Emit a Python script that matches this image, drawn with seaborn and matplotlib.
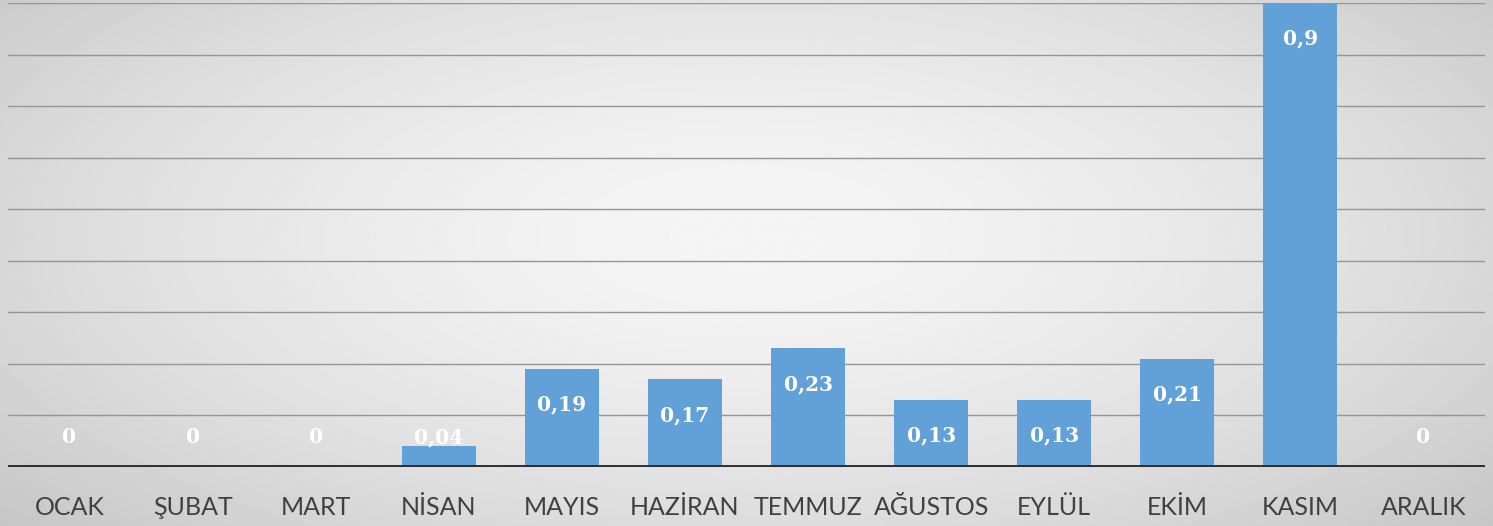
import numpy as np
import pandas as pd
import matplotlib
matplotlib.use('Agg')
import matplotlib.pyplot as plt
import seaborn as sns

# aylar ve degerler
months = ['OCAK', 'ŞUBAT', 'MART', 'NİSAN', 'MAYIS', 'HAZİRAN',
          'TEMMUZ', 'AĞUSTOS', 'EYLÜL', 'EKİM', 'KASIM', 'ARALIK']
values = [0, 0, 0, 0.04, 0.19, 0.17, 0.23, 0.13, 0.13, 0.21, 0.9, 0]
labels = ['0', '0', '0', '0,04', '0,19', '0,17', '0,23', '0,13', '0,13', '0,21', '0,9', '0']

df = pd.DataFrame({'ay': months, 'deger': values})

sns.set_theme(style='white')
plt.rcParams['font.family'] = ['Lato', 'DejaVu Sans']

W, H = 1493, 526
fig = plt.figure(figsize=(W / 100, H / 100), dpi=100)

# radyal gri arka plan
bg = fig.add_axes([0, 0, 1, 1])
yy, xx = np.mgrid[0:1:300j, 0:1:800j]
r = np.sqrt(((xx - 0.5) / 0.62) ** 2 + ((yy - 0.45) / 0.75) ** 2)
shade = np.clip(0.96 - 0.16 * r ** 1.6, 0, 1)
bg.imshow(shade, cmap='gray', vmin=0, vmax=1, aspect='auto', extent=[0, 1, 0, 1])
bg.set_axis_off()

ax = fig.add_axes([8 / W, 59 / H, 1477 / W, 464 / H])
ax.patch.set_alpha(0)
sns.barplot(data=df, x='ay', y='deger', color='#62a0d8', width=0.6,
            saturation=1, linewidth=0, ax=ax, zorder=3)

ax.set_ylim(0, 0.9)
ax.set_xlim(-0.5, 11.5)
for g in np.arange(0.1, 0.95, 0.1):
    ax.axhline(g, color='#959595', lw=1.0, zorder=1)
ax.axhline(0, color='#2e2e2e', lw=2.8, zorder=4)

# etiketler: cubugun icinde, ust kenarin biraz altinda
for i, (v, t) in enumerate(zip(values, labels)):
    y = max(v - 0.069, 0.058)
    ax.text(i, y, t, ha='center', va='center', color='white',
            fontsize=14.5, fontweight='bold', family=['DejaVu Serif'], zorder=5)

ax.set_xlabel('')
ax.set_ylabel('')
ax.set_yticks([])
ax.tick_params(axis='x', length=0, pad=21, labelsize=18, labelcolor='#404040')
for s in ax.spines.values():
    s.set_visible(False)

fig.savefig('out.png', dpi=100)
